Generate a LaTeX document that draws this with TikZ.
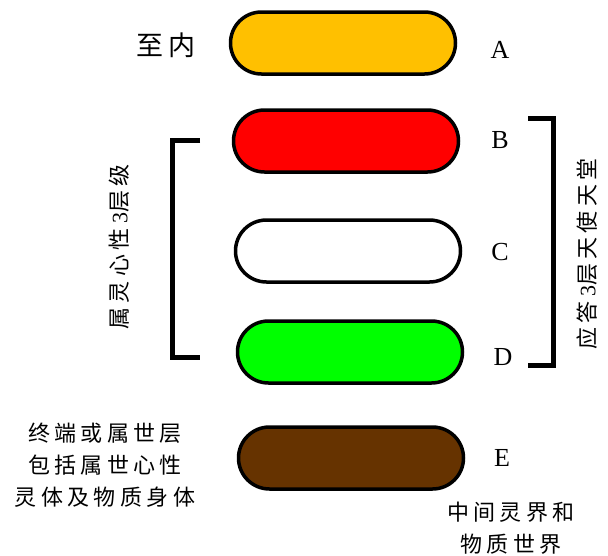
\documentclass[tikz,border=0pt]{standalone}
\usepackage{fontspec}
\setmainfont{Liberation Serif}
\newfontfamily\cjk[LetterSpace=20]{Noto Sans CJK SC}
\usetikzlibrary{shapes.misc}
\definecolor{layerA}{HTML}{FFC000}
\definecolor{layerB}{HTML}{FF0000}
\definecolor{layerD}{HTML}{00FF00}
\definecolor{layerE}{HTML}{663300}
\begin{document}
\begin{tikzpicture}[x=1pt,y=-1pt,
	layer/.style={rounded rectangle,draw,line width=3.5pt,minimum width=225pt,minimum height=62pt,inner sep=0pt},
	tag/.style={font=\fontsize{26}{26}\selectfont},
	note/.style={font=\cjk\fontsize{22}{32}\selectfont,align=center},
	brace/.style={line width=5pt}]
	\useasboundingbox (0,0) rectangle (608,555);
		\node[layer,fill=layerA](A) at (343,43){};
		\node[layer,fill=layerB](B) at (346,141){};
		\node[layer,fill=white](C) at (348,251){};
		\node[layer,fill=layerD](D) at (350,352){};
		\node[layer,fill=layerE](E) at (351,458){};
		\node[tag](tA) at (500,50){A};
		\node[tag](tB) at (500,140){B};
		\node[tag](tC) at (500,252){C};
		\node[tag](tD) at (503,357){D};
		\node[tag](tE) at (502,458){E};
		\node[note,font=\cjk\fontsize{27}{27}\selectfont](top) at (166,45){至内};
		\node[note,rotate=90](inner) at (119,247){属灵心性\textrm{3}层级};
		\node[note,rotate=90](heaven) at (587,254){应答\textrm{3}层天使天堂};
		\node[note](outer) at (105,465){终端或属世层\\包括属世心性\\灵体及物质身体};
		\node[note](world) at (511,528){中间灵界和\\物质世界};
		\draw[brace] (200,140) -- (172,140) -- (172,357) -- (200,357);
		\draw[brace] (528,118) -- (553,118) -- (553,365) -- (528,365);
	\end{tikzpicture}
\end{document}
